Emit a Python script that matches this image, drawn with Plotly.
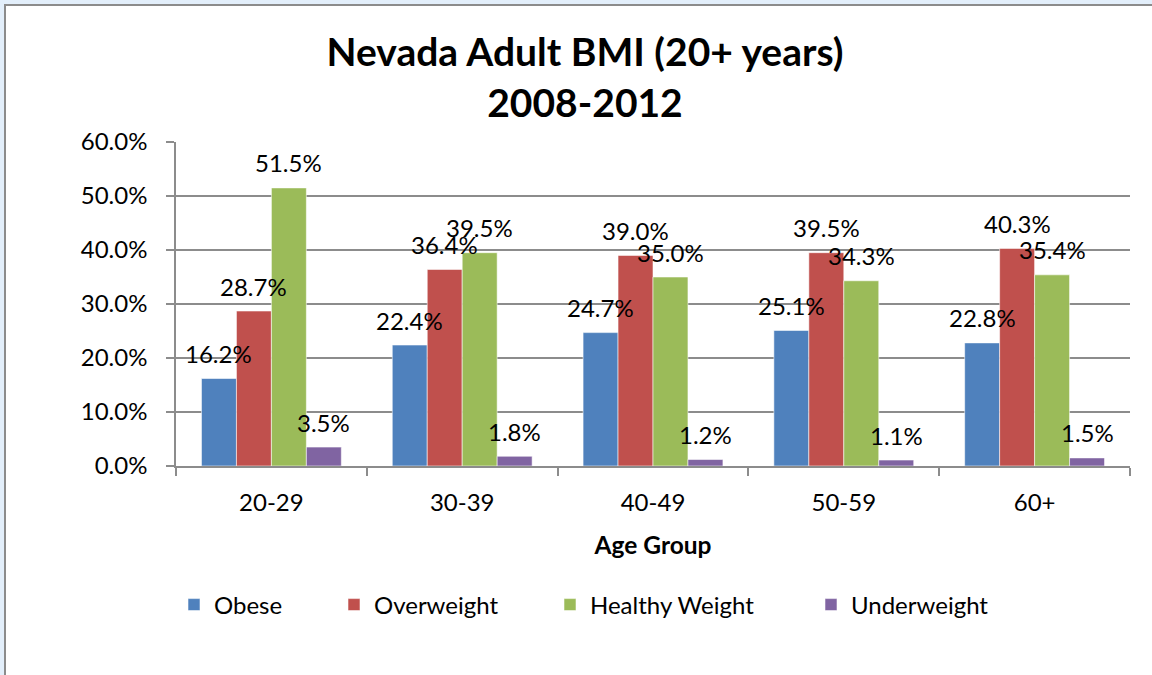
import plotly.graph_objects as go

categories = ["20-29", "30-39", "40-49", "50-59", "60+"]
series_names = ["Obese", "Overweight", "Healthy Weight", "Underweight"]
obese = [16.2, 22.4, 24.7, 25.1, 22.8]
overweight = [28.7, 36.4, 39.0, 39.5, 40.3]
healthy = [51.5, 39.5, 35.0, 34.3, 35.4]
underweight = [3.5, 1.8, 1.2, 1.1, 1.5]
colors = ["#4F81BD", "#C0504D", "#9BBB59", "#8064A2"]
y_ticks = [0, 10, 20, 30, 40, 50, 60]

W, H = 1152, 675
L, R, T, B = 176, 22, 142, 209
pw, ph = W - L - R, H - T - B
BARGAP = 0.267
bar_w = (1 - BARGAP) * pw / len(categories) / len(series_names)

def px_x(p):
    return (p - L) / pw

def px_y(p):
    return (H - B - p) / ph

FONT = "Lato"
fig = go.Figure()
all_vals = [obese, overweight, healthy, underweight]
legend_ids = ["legend", "legend2", "legend3", "legend4"]
for i, (name, vals, col) in enumerate(zip(series_names, all_vals, colors)):
    fig.add_trace(go.Bar(
        x=categories, y=vals, name=name,
        marker=dict(color=col, line=dict(color="rgba(255,255,255,0.55)", width=1)),
        legend=legend_ids[i],
    ))
    for c, v in zip(categories, vals):
        fig.add_annotation(
            x=c, y=v, text=f"{v:.1f}%", showarrow=False,
            xshift=(i - 1.5) * bar_w, yshift=25, yanchor="middle",
            font=dict(family=FONT, size=24, color="#000000"),
        )

# frame of the chart area
fig.add_shape(type="rect", xref="paper", yref="paper",
              x0=px_x(5), x1=px_x(1300), y0=px_y(5), y1=px_y(900),
              line=dict(color="#8C8C8C", width=2), fillcolor="#FFFFFF", layer="below")

legend_sym_centers = [195, 355, 571, 832]
leg_common = dict(orientation="h", xanchor="left", yanchor="middle",
                  font=dict(family=FONT, size=24, color="#000000"),
                  bgcolor="rgba(0,0,0,0)", itemwidth=30, traceorder="normal")
layout_legends = {}
for lid, cx in zip(legend_ids, legend_sym_centers):
    layout_legends[lid] = dict(leg_common, x=px_x(cx - 21), y=px_y(605))

fig.update_layout(
    width=W, height=H,
    margin=dict(l=L, r=R, t=T, b=B, pad=0),
    paper_bgcolor="#E3EFFB", plot_bgcolor="#FFFFFF",
    barmode="group", bargap=BARGAP, bargroupgap=0,
    showlegend=True,
    title=dict(text="<b>Nevada Adult BMI (20+ years)<br>2008-2012</b>",
               x=585 / W, xref="container", xanchor="center",
               y=1 - 66 / H, yref="container", yanchor="top",
               font=dict(family=FONT, size=39, color="#000000")),
    xaxis=dict(
        showline=True, linecolor="#8C8C8C", linewidth=1.5,
        ticks="outside", ticklen=8, tickcolor="#8C8C8C", tickwidth=1.5,
        tickson="boundaries", showgrid=False,
        tickfont=dict(family=FONT, size=24, color="#000000"),
        ticklabelstandoff=14,
        title=dict(text="<b>Age Group</b>", standoff=22,
                   font=dict(family=FONT, size=24.5, color="#000000")),
    ),
    yaxis=dict(
        range=[0, 60], tickvals=y_ticks, ticktext=[f"{t:.1f}%" for t in y_ticks],
        showline=True, linecolor="#8C8C8C", linewidth=1.5,
        ticks="outside", ticklen=8, tickcolor="#8C8C8C", tickwidth=1.5,
        showgrid=True, gridcolor="#8C8C8C", gridwidth=1.5, zeroline=False,
        tickfont=dict(family=FONT, size=24, color="#000000"),
        ticklabelstandoff=14,
    ),
    **layout_legends,
)

fig.write_html("out.html")
